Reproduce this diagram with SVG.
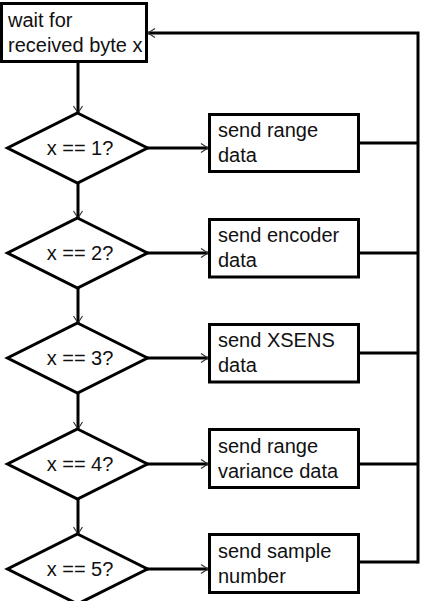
<svg xmlns="http://www.w3.org/2000/svg" width="421" height="601" viewBox="0 0 421 601">
<style>
.box{fill:#fff;stroke:#000;stroke-width:3}
.t{font-family:"Liberation Sans",Arial,sans-serif;font-size:20px;fill:#111}
.c{fill:none;stroke:#000;stroke-width:3}
.m{text-anchor:middle}
</style>
<defs>
<marker id="arr" markerUnits="userSpaceOnUse" viewBox="-10 -6 12 12" refX="0" refY="0" markerWidth="12" markerHeight="12" orient="auto">
<path d="M-7,-4.5 L0,0 L-7,4.5" fill="none" stroke="#333" stroke-width="1.2"/>
</marker>
</defs>
<rect width="421" height="601" fill="#fff"/>
<g id="connectors">
<line class="c" x1="78" y1="63" x2="78" y2="113" marker-end="url(#arr)"/>
<line class="c" x1="78" y1="183" x2="78" y2="218" marker-end="url(#arr)"/>
<line class="c" x1="78" y1="288" x2="78" y2="323" marker-end="url(#arr)"/>
<line class="c" x1="78" y1="393" x2="78" y2="429" marker-end="url(#arr)"/>
<line class="c" x1="78" y1="499" x2="78" y2="534" marker-end="url(#arr)"/>
<line class="c" x1="147" y1="148" x2="208" y2="148" marker-end="url(#arr)"/>
<line class="c" x1="147" y1="253" x2="208" y2="253" marker-end="url(#arr)"/>
<line class="c" x1="147" y1="358" x2="208" y2="358" marker-end="url(#arr)"/>
<line class="c" x1="147" y1="464" x2="208" y2="464" marker-end="url(#arr)"/>
<line class="c" x1="147" y1="569" x2="208" y2="569" marker-end="url(#arr)"/>
<line class="c" x1="358" y1="143" x2="418" y2="143"/>
<line class="c" x1="358" y1="253" x2="418" y2="253"/>
<line class="c" x1="358" y1="353" x2="418" y2="353"/>
<line class="c" x1="358" y1="464" x2="418" y2="464"/>
<line class="c" x1="358" y1="562" x2="418" y2="562"/>
<polyline class="c" points="418,563.5 418,33 148,33" marker-end="url(#arr)"/>
</g>
<g id="start">
<rect class="box" x="1.5" y="3.5" width="145" height="58"/>
<text class="t" x="8" y="27">wait for</text>
<text class="t" x="8" y="52">received byte x</text>
</g>
<g id="d1"><polygon class="box" points="77.5,113 147.5,148 77.5,183 7.5,148"/><text class="t m" x="80" y="155">x == 1?</text></g>
<g id="d2"><polygon class="box" points="77.5,218 147.5,253 77.5,288 7.5,253"/><text class="t m" x="80" y="260">x == 2?</text></g>
<g id="d3"><polygon class="box" points="77.5,323 147.5,358 77.5,393 7.5,358"/><text class="t m" x="80" y="365">x == 3?</text></g>
<g id="d4"><polygon class="box" points="77.5,429 147.5,464 77.5,499 7.5,464"/><text class="t m" x="80" y="471">x == 4?</text></g>
<g id="d5"><polygon class="box" points="77.5,534 147.5,569 77.5,604 7.5,569"/><text class="t m" x="80" y="576">x == 5?</text></g>
<g id="b1"><rect class="box" x="209.5" y="114.5" width="149" height="57"/><text class="t" x="218" y="137">send range</text><text class="t" x="218" y="162">data</text></g>
<g id="b2"><rect class="box" x="209.5" y="219.5" width="149" height="57.5"/><text class="t" x="218" y="242">send encoder</text><text class="t" x="218" y="267">data</text></g>
<g id="b3"><rect class="box" x="209.5" y="324.5" width="149" height="57.5"/><text class="t" x="218" y="347">send XSENS</text><text class="t" x="218" y="372">data</text></g>
<g id="b4"><rect class="box" x="209.5" y="429.5" width="149" height="58"/><text class="t" x="218" y="453">send range</text><text class="t" x="218" y="478">variance data</text></g>
<g id="b5"><rect class="box" x="209.5" y="534.5" width="149" height="58"/><text class="t" x="218" y="558">send sample</text><text class="t" x="218" y="583">number</text></g>
</svg>
